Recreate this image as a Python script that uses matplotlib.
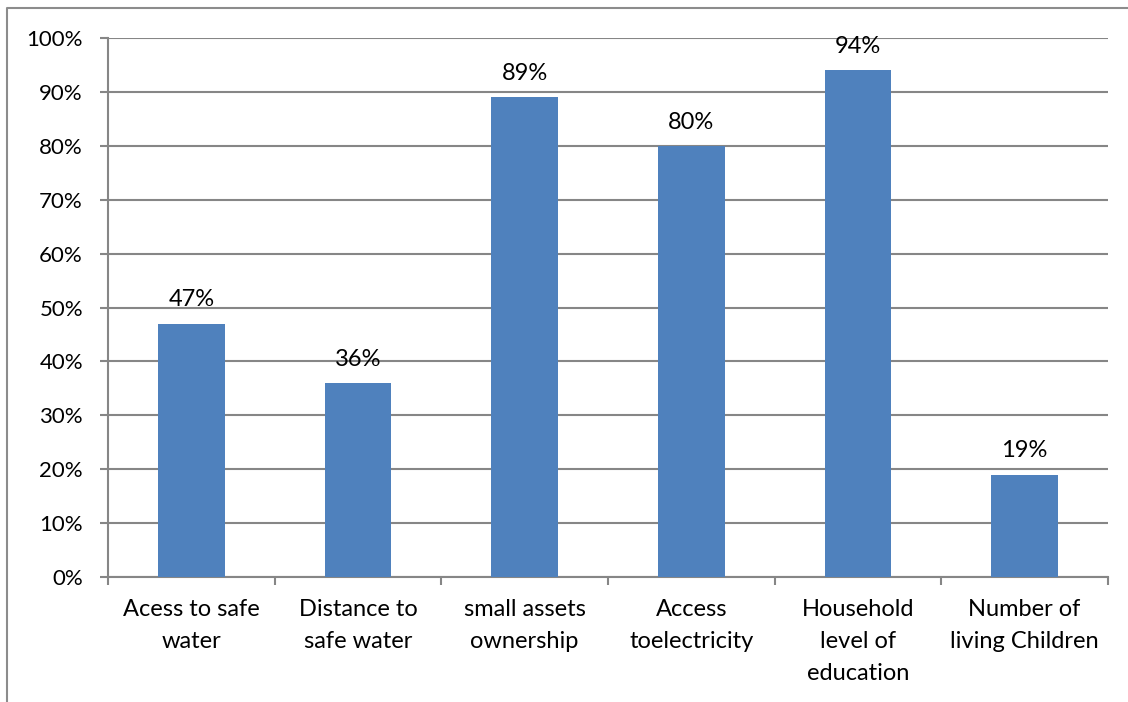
import matplotlib.pyplot as plt
from matplotlib.lines import Line2D
from matplotlib.ticker import PercentFormatter

categories = ["Acess to safe\nwater", "Distance to\nsafe water", "small assets\nownership",
              "Access\ntoelectricity", "Household\nlevel of\neducation", "Number of\nliving Children"]
values = [47, 36, 89, 80, 94, 19]

plt.rcParams['font.family'] = ['Lato', 'DejaVu Sans']
W, H = 1128, 702
fig = plt.figure(figsize=(W / 100, H / 100), dpi=100)
ax = fig.add_axes([108 / W, 1 - 577 / H, 1000 / W, 539 / H])

grey = '#868686'
x = range(len(values))
bars = ax.bar(x, values, width=0.4, color='#4F81BD', zorder=3)
for b, v in zip(bars, values):
    ax.annotate(f"{v}%", (b.get_x() + b.get_width() / 2, v), xytext=(0, 9.5),
                textcoords='offset points', ha='center', va='bottom', fontsize=17)

ax.set_xlim(-0.5, len(values) - 0.5)
ax.set_ylim(0, 100)
ax.set_yticks(range(0, 101, 10))
ax.yaxis.set_major_formatter(PercentFormatter(decimals=0))
ax.set_xticks([i - 0.5 for i in range(len(values) + 1)], minor=False)
ax.set_xticklabels([])
ax.set_xticks(list(x), minor=True)
ax.set_xticklabels(categories, minor=True, fontsize=17, linespacing=1.65)
ax.tick_params(axis='x', which='minor', length=0, pad=16)
ax.tick_params(axis='x', which='major', length=6, color=grey, width=1.5, direction='out')
ax.tick_params(axis='y', length=6, color=grey, width=1.5, labelsize=16, pad=12)
ax.grid(axis='y', color=grey, linewidth=1.5, zorder=0)
for s in ['top', 'right']:
    ax.spines[s].set_visible(False)
for s in ['left', 'bottom']:
    ax.spines[s].set_color(grey)
    ax.spines[s].set_linewidth(1.5)

fig.add_artist(Line2D([7 / W, 7 / W, 1], [0, 1 - 8 / H, 1 - 8 / H], color='#8c8c8c', linewidth=1.5))

fig.savefig('out.png', dpi=100)
